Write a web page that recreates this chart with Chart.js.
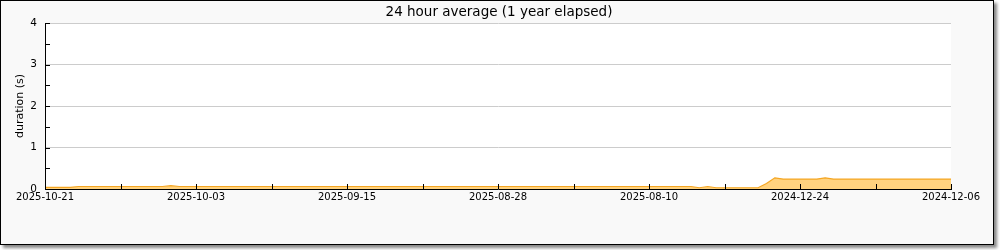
<!DOCTYPE html>
<html><head><meta charset="utf-8">
<script src="https://cdn.jsdelivr.net/npm/chart.js@4.4.1/dist/chart.umd.min.js"></script>
<style>
html,body{margin:0;padding:0;background:#fff;}
#box{position:absolute;left:0;top:0;width:992px;height:243px;border:1px solid #000;background:#f9f9f9;box-shadow:3px 3px 3px #888;}
canvas{display:block;}
</style></head><body>
<div id="box"><canvas id="c" width="992" height="243"></canvas></div>
<script>
const chartTitle = '24 hour average (1 year elapsed)';
const yTitle = 'duration (s)';
const tickLabels = ['2025-10-21','2025-10-03','2025-09-15','2025-08-28','2025-08-10','2024-12-24','2024-12-06'];
const durations = [
  0.04,0.04,0.04,0.04,
  0.06,0.06,0.06,0.06,0.06,0.06,0.06,0.06,0.06,0.06,0.06,
  0.08,
  0.06,0.06,0.06,0.06,0.06,0.06,0.06,0.06,0.06,0.06,
  0.06,0.06,0.06,0.06,0.06,0.06,0.06,0.06,0.06,0.06,
  0.06,0.06,0.06,0.06,0.06,0.06,0.06,0.06,0.06,0.06,
  0.06,0.06,0.06,0.06,0.06,0.06,0.06,0.06,0.06,0.06,
  0.06,0.06,0.06,0.06,0.06,0.06,0.06,0.06,0.06,0.06,
  0.06,0.06,0.06,0.06,0.06,0.06,0.06,0.06,0.06,0.06,
  0.06,0.06,
  0.03,
  0.06,
  0.03,0.03,0.03,0.03,0.03,0.03,
  0.13,
  0.27,
  0.24,0.24,0.24,0.24,0.24,
  0.27,
  0.24,0.24,0.24,0.24,0.24,0.24,0.24,0.24,0.24,0.24,0.24,0.24,0.24,0.24,0.24
];

Chart.defaults.font.family = 'DejaVu Sans';
Chart.defaults.color = '#000';

const points = durations.map((v, i) => ({x: i, y: v}));

const plotBg = {
  id: 'plotBg',
  beforeDraw(chart) {
    const {ctx, chartArea: a} = chart;
    ctx.save();
    ctx.fillStyle = '#fff';
    ctx.fillRect(a.left, a.top, a.right - a.left, a.bottom - a.top);
    ctx.restore();
  }
};

const pageTitle = {
  id: 'pageTitle',
  afterDraw(chart) {
    const ctx = chart.ctx;
    ctx.save();
    ctx.font = '13.5px "DejaVu Sans"';
    ctx.fillStyle = '#000';
    ctx.textAlign = 'center';
    ctx.textBaseline = 'alphabetic';
    ctx.fillText(chartTitle, 498, 14.5);
    ctx.restore();
  }
};

const inwardTicks = {
  id: 'inwardTicks',
  afterDraw(chart) {
    const {ctx, chartArea: a, scales: {x, y}} = chart;
    ctx.save();
    ctx.strokeStyle = '#000';
    ctx.lineWidth = 1;
    ctx.beginPath();
    y.ticks.forEach(t => {
      const py = Math.round(y.getPixelForValue(t.value)) + 0.5;
      ctx.moveTo(a.left, py); ctx.lineTo(a.left + 5, py);
    });
    x.ticks.forEach(t => {
      const px = Math.round(x.getPixelForValue(t.value)) + 0.5;
      ctx.moveTo(px, a.bottom); ctx.lineTo(px, a.bottom - 5);
    });
    ctx.stroke();
    ctx.restore();
  }
};

new Chart(document.getElementById('c'), {
  type: 'line',
  data: {
    datasets: [{
      data: points,
      borderColor: '#f5a623',
      backgroundColor: '#ffd27f',
      borderWidth: 1.2,
      fill: 'origin',
      pointRadius: 0,
      tension: 0
    }]
  },
  options: {
    responsive: false,
    animation: false,
    layout: {padding: {left: 0, right: 42, top: 22, bottom: 0}},
    plugins: {
      legend: {display: false},
      tooltip: {enabled: false},
      title: {display: false}
    },
    scales: {
      x: {
        type: 'linear',
        min: 0,
        max: durations.length - 1,
        grid: {display: false, drawTicks: false},
        border: {display: true, color: '#000'},
        ticks: {
          stepSize: 9,
          autoSkip: false,
          maxRotation: 0,
          padding: 2,
          font: {size: 10},
          color: '#000',
          callback: v => (v % 18 === 0 ? tickLabels[v / 18] : '')
        },
        afterFit: s => { s.height = 55; s.paddingLeft = 0; s.paddingRight = 0; }
      },
      y: {
        min: 0,
        max: 4,
        grid: {
          drawTicks: false,
          color: c => (Number.isInteger(c.tick.value) ? '#cccccc' : 'rgba(0,0,0,0)')
        },
        border: {display: true, color: '#000'},
        ticks: {
          stepSize: 0.5,
          padding: 8,
          font: {size: 10.5},
          color: '#000',
          callback: v => (Number.isInteger(v) ? String(v) : '')
        },
        title: {
          display: true,
          text: yTitle,
          font: {size: 11},
          color: '#000',
          padding: {top: 12.4, bottom: 0}
        },
        afterFit: s => { s.width = 44; }
      }
    }
  },
  plugins: [plotBg, pageTitle, inwardTicks]
});
</script>
</body></html>
